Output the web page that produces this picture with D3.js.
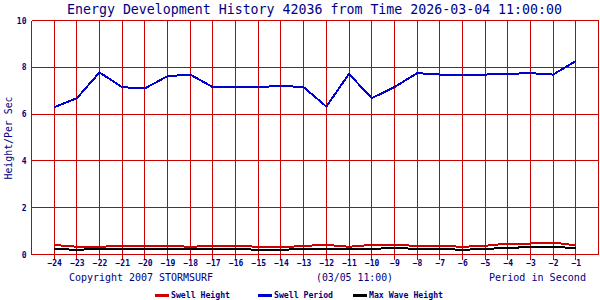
<!DOCTYPE html>
<html>
<head>
<meta charset="utf-8">
<script src="https://cdn.jsdelivr.net/npm/d3@7"></script>
<style>
  body { margin: 0; background: #fff; }
  text { font-family: "DejaVu Sans Mono", "Liberation Mono", monospace; }
</style>
</head>
<body>
<div id="chart"></div>
<script>
// hours before the report time
var hours = [-24, -23, -22, -21, -20, -19, -18, -17, -16, -15, -14, -13,
             -12, -11, -10, -9, -8, -7, -6, -5, -4, -3, -2, -1];

var swellHeight = [0.41, 0.33, 0.33, 0.37, 0.37, 0.37, 0.33, 0.37, 0.37, 0.33, 0.30, 0.37,
                   0.41, 0.33, 0.41, 0.41, 0.37, 0.37, 0.33, 0.37, 0.47, 0.47, 0.51, 0.39];

var swellPeriod = [6.29, 6.68, 7.78, 7.15, 7.10, 7.62, 7.69, 7.15, 7.15, 7.15, 7.21, 7.15,
                   6.32, 7.72, 6.68, 7.15, 7.75, 7.69, 7.69, 7.69, 7.72, 7.75, 7.69, 8.27];

var maxWave = [0.24, 0.20, 0.24, 0.24, 0.24, 0.24, 0.24, 0.24, 0.24, 0.20, 0.20, 0.24,
               0.24, 0.24, 0.24, 0.28, 0.24, 0.24, 0.20, 0.24, 0.28, 0.32, 0.32, 0.28];

var yTicks = [0, 2, 4, 6, 8, 10];

var w = 600, h = 300;
var gridColor = "#cc0000";
var navy = "#000080";

var svg = d3.select("#chart").append("svg")
    .attr("width", w)
    .attr("height", h);

var x = d3.scaleLinear().domain([-25, 0]).range([31.5, 598.5]);
var y = d3.scaleLinear().domain([0, 10]).range([254.5, 20.5]);

// title
svg.append("text")
    .attr("x", 67).attr("y", 14)
    .attr("textLength", 495).attr("lengthAdjust", "spacingAndGlyphs")
    .attr("font-size", 14).attr("fill", navy)
    .text("Energy Development History 42036 from Time 2026-03-04 11:00:00");

// horizontal grid
svg.append("g").selectAll("line")
    .data(yTicks)
    .enter().append("line")
    .attr("x1", x(-25)).attr("x2", x(0))
    .attr("y1", function(d){ return y(d); })
    .attr("y2", function(d){ return y(d); })
    .attr("stroke", gridColor).attr("shape-rendering", "crispEdges");

// vertical grid, runs a little past the bottom as tick marks
svg.append("g").selectAll("line")
    .data(hours)
    .enter().append("line")
    .attr("x1", function(d){ return x(d); })
    .attr("x2", function(d){ return x(d); })
    .attr("y1", y(10)).attr("y2", y(0) + 5)
    .attr("stroke", gridColor).attr("shape-rendering", "crispEdges");

// frame sides
svg.append("line")
    .attr("x1", x(-25)).attr("x2", x(-25)).attr("y1", y(10)).attr("y2", y(0))
    .attr("stroke", gridColor).attr("shape-rendering", "crispEdges");
svg.append("line")
    .attr("x1", x(0)).attr("x2", x(0)).attr("y1", y(10)).attr("y2", y(0))
    .attr("stroke", gridColor).attr("shape-rendering", "crispEdges");

// axes (labels only, lines are the grid above)
var xAxis = svg.append("g")
    .attr("transform", "translate(0," + y(0) + ")")
    .call(d3.axisBottom(x).tickValues(hours).tickSize(0).tickPadding(6));
var yAxis = svg.append("g")
    .attr("transform", "translate(" + (x(-25) - 5) + ",0)")
    .call(d3.axisLeft(y).tickValues(yTicks).tickSize(0).tickPadding(0));

[xAxis, yAxis].forEach(function(g){
  g.select(".domain").remove();
  g.selectAll("text")
      .attr("font-family", "DejaVu Sans Mono")
      .attr("font-size", 8)
      .attr("font-weight", "bold")
      .attr("fill", navy);
});

svg.append("text")
    .attr("transform", "translate(11.5,138) rotate(-90)")
    .attr("text-anchor", "middle")
    .attr("textLength", 83).attr("lengthAdjust", "spacingAndGlyphs")
    .attr("font-size", 11).attr("fill", navy)
    .text("Height/Per Sec");

// series
var series = [
  { name: "Swell Height", values: swellHeight, color: "#cc0000" },
  { name: "Swell Period", values: swellPeriod, color: "#0000cc" },
  { name: "Max Wave Height", values: maxWave, color: "#000000" }
];

var line = d3.line()
    .x(function(d, i){ return x(hours[i]); })
    .y(function(d){ return y(d); });

svg.append("g").selectAll("path")
    .data(series)
    .enter().append("path")
    .attr("d", function(s){ return line(s.values); })
    .attr("fill", "none")
    .attr("stroke", function(s){ return s.color; })
    .attr("stroke-width", 2)
    .attr("shape-rendering", "crispEdges");

// footer texts
var footer = [
  { t: "Copyright 2007 STORMSURF", x: 69, len: 144 },
  { t: "(03/05 11:00)", x: 316, len: 77 },
  { t: "Period in Second", x: 489, len: 97 }
];
svg.append("g").selectAll("text")
    .data(footer)
    .enter().append("text")
    .attr("x", function(d){ return d.x; })
    .attr("y", 281)
    .attr("textLength", function(d){ return d.len; })
    .attr("lengthAdjust", "spacingAndGlyphs")
    .attr("font-size", 11).attr("fill", navy)
    .text(function(d){ return d.t; });

// legend
var legendX = [155, 258, 353];
var legendLen = [59, 59, 74];
var lg = svg.append("g").selectAll("g")
    .data(series)
    .enter().append("g")
    .attr("transform", function(d, i){ return "translate(" + legendX[i] + ",0)"; });
lg.append("line")
    .attr("x1", 0).attr("x2", 14)
    .attr("y1", 295).attr("y2", 295)
    .attr("stroke", function(d){ return d.color; })
    .attr("stroke-width", 3)
    .attr("shape-rendering", "crispEdges");
lg.append("text")
    .attr("x", 16).attr("y", 298)
    .attr("textLength", function(d, i){ return legendLen[i]; })
    .attr("lengthAdjust", "spacingAndGlyphs")
    .attr("font-size", 8).attr("font-weight", "bold")
    .attr("fill", navy)
    .text(function(d){ return d.name; });
</script>
</body>
</html>
